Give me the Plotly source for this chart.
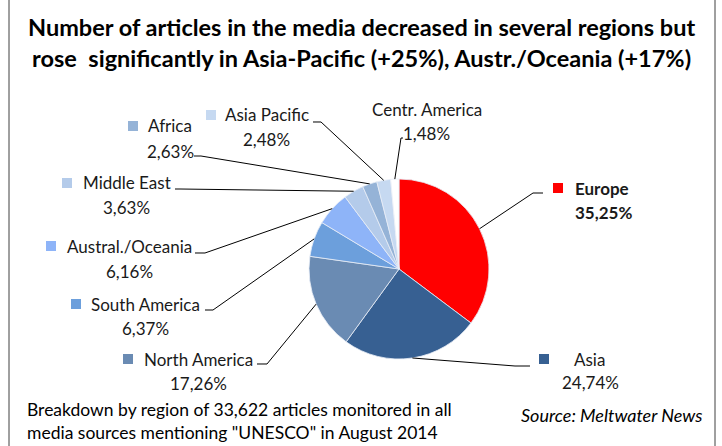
import math
import plotly.graph_objects as go

# data
regions = ['Europe', 'Asia', 'North America', 'South America', 'Austral./Oceania',
           'Middle East', 'Africa', 'Asia Pacific', 'Centr. America']
shares = [35.25, 24.74, 17.26, 6.37, 6.16, 3.63, 2.63, 2.48, 1.48]
pct_labels = ['35,25%', '24,74%', '17,26%', '6,37%', '6,16%', '3,63%', '2,63%', '2,48%', '1,48%']
colors = ['#FF0000', '#376092', '#6A8BB3', '#6C9FDC', '#8EB4F8',
          '#B4CBEA', '#95B3D7', '#C6D9F1', '#FFFFFF']

title_text = ('Number of articles in the media decreased in several regions but<br>'
              'rose  significantly in Asia-Pacific (+25%), Austr./Oceania (+17%)')
note_text = ('Breakdown by region of 33,622 articles monitored in all<br>'
             'media sources mentioning "UNESCO" in August 2014')
source_text = 'Source: Meltwater News'

W, H = 722, 446
FONT = 'Lato'

# pie placement (pixels)
cx, cy, R = 399, 269, 90

# label layout (pixels): name centre x, name y, pct centre x, pct y,
# key square centre, leader points from label side to pie
label_pos = {
    'Europe':           dict(nx=573, ny=188, px=573, py=212, anchor='left', bold=True,
                             key=(558, 188), lead=[(543, 193), (533, 193)]),
    'Asia':             dict(nx=572, ny=359, px=560, py=382, anchor='left', bold=False,
                             key=(544, 359), lead=[(530, 366), (515, 366)]),
    'North America':    dict(nx=198, ny=359, px=198, py=383, anchor='center', bold=False,
                             key=(128, 359), lead=[(257, 364), (267, 364)]),
    'South America':    dict(nx=145, ny=304, px=145, py=328, anchor='center', bold=False,
                             key=(76, 304), lead=[(205, 310), (213, 310)]),
    'Austral./Oceania': dict(nx=129.5, ny=246, px=129.5, py=271, anchor='center', bold=False,
                             key=(51, 246), lead=[(195, 253), (205, 253)]),
    'Middle East':      dict(nx=126.5, ny=183, px=126, py=207, anchor='center', bold=False,
                             key=(67, 183), lead=[(175, 189), (180, 189)]),
    'Africa':           dict(nx=170, ny=126, px=170.5, py=151, anchor='center', bold=False,
                             key=(133, 126), lead=[(194, 156), (201, 156)]),
    'Asia Pacific':     dict(nx=266.5, ny=115, px=266.5, py=139, anchor='center', bold=False,
                             key=(211, 115), lead=[(313, 122), (321, 122)]),
    'Centr. America':   dict(nx=426.5, ny=109, px=426, py=133, anchor='center', bold=False,
                             key=None, lead=[(403, 138), (401, 138)]),
}


def X(px):
    return px / W


def Y(py):
    return 1 - py / H


fig = go.Figure()

fig.add_trace(go.Pie(
    labels=regions, values=shares, sort=False, direction='clockwise', rotation=0,
    marker=dict(colors=colors, line=dict(color='#E8EEF6', width=0.8)),
    textinfo='none', hoverinfo='label+percent', showlegend=False,
    domain=dict(x=[X(cx - R), X(cx + R)], y=[Y(cy + R), Y(cy - R)]),
))

shapes = []
annotations = []

# frame
shapes.append(dict(type='rect', xref='paper', yref='paper', x0=X(9), x1=X(715),
                   y0=Y(450), y1=Y(-4), line=dict(color='#404040', width=1)))

cum = 0
for name, val, pct, col in zip(regions, shares, pct_labels, colors):
    mid = (cum + val / 2) / sum(shares) * 2 * math.pi
    cum += val
    ex, ey = cx + R * math.sin(mid), cy - R * math.cos(mid)
    lp = label_pos[name]
    pts = lp['lead'] + [(ex, ey)]
    path = 'M ' + ' L '.join(f'{X(a):.5f},{Y(b):.5f}' for a, b in pts)
    shapes.append(dict(type='path', xref='paper', yref='paper', path=path,
                       line=dict(color='black', width=1)))
    if lp['key'] is not None:
        kx, ky = lp['key']
        shapes.append(dict(type='rect', xref='paper', yref='paper',
                           x0=X(kx - 5), x1=X(kx + 5), y0=Y(ky + 5), y1=Y(ky - 5),
                           fillcolor=col, line=dict(width=0)))
    b = lp['bold']
    for txt, tx, ty in [(name, lp['nx'], lp['ny']), (pct, lp['px'], lp['py'])]:
        annotations.append(dict(
            text=f'<b>{txt}</b>' if b else txt, x=X(tx), y=Y(ty), xref='paper', yref='paper',
            xanchor=lp['anchor'], yanchor='middle', showarrow=False,
            font=dict(family=FONT, size=17, color='#1a1a1a')))

annotations.append(dict(text=f'<b>{title_text}</b>', x=X(361), y=Y(43), xref='paper', yref='paper',
                        xanchor='center', yanchor='middle', showarrow=False,
                        font=dict(family=FONT, size=23.5, color='black')))
annotations.append(dict(text=note_text, x=X(25), y=Y(421), xref='paper', yref='paper',
                        xanchor='left', yanchor='middle', align='left', showarrow=False,
                        font=dict(family=FONT, size=17.5, color='black')))
annotations.append(dict(text=f'<i>{source_text}</i>', x=X(705), y=Y(415), xref='paper', yref='paper',
                        xanchor='right', yanchor='middle', showarrow=False,
                        font=dict(family=FONT, size=18, color='black')))

fig.update_layout(
    width=W, height=H,
    margin=dict(l=0, r=0, t=0, b=0),
    paper_bgcolor='white', plot_bgcolor='white',
    shapes=shapes, annotations=annotations,
)

# the page body has a default 8px margin; drop it so the figure fills the window
fig.write_html('out.html', config={'displayModeBar': False},
               post_script="document.body.style.margin='0';")
